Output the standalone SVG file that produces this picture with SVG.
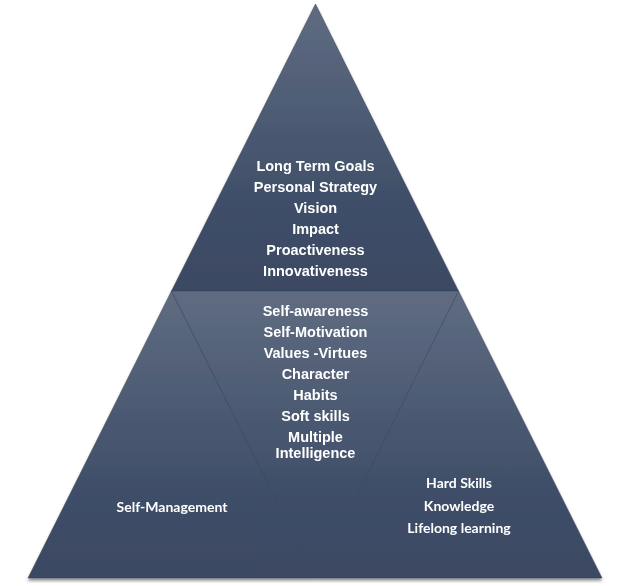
<svg xmlns="http://www.w3.org/2000/svg" width="631" height="586" viewBox="0 0 631 586">
<defs>
<linearGradient id="g" x1="0" y1="0" x2="0" y2="1">
<stop offset="0" stop-color="#5f6c81"/>
<stop offset="0.7" stop-color="#3f4e68"/>
<stop offset="1" stop-color="#3b4963"/>
</linearGradient>
<filter id="sh" x="-5%" y="-5%" width="110%" height="110%">
<feDropShadow dx="0" dy="2.5" stdDeviation="1.5" flood-color="#000" flood-opacity="0.45"/>
</filter>
<style>
.tri{fill:url(#g);stroke:#34405a;stroke-width:0.8;stroke-opacity:0.6}
.a{font-family:"Liberation Sans",Arial,sans-serif;font-weight:bold;font-size:14.5px;fill:#fff;text-anchor:middle}
.c{font-family:Lato,"Open Sans",sans-serif;font-weight:bold;font-size:14px;fill:#fff;text-anchor:middle}
</style>
</defs>
<g filter="url(#sh)">
<g id="top">
<polygon class="tri" points="315.5,4 171.5,291 458.5,291"/>
<text class="a" x="315.5" y="170.5">Long Term Goals</text>
<text class="a" x="315.5" y="191.5">Personal Strategy</text>
<text class="a" x="315.5" y="212.5">Vision</text>
<text class="a" x="315.5" y="233.5">Impact</text>
<text class="a" x="315.5" y="254.5">Proactiveness</text>
<text class="a" x="315.5" y="275.5">Innovativeness</text>
</g>
<g id="left">
<polygon class="tri" points="171.5,291 28,578 315.5,578"/>
<text class="c" x="172" y="512">Self-Management</text>
</g>
<g id="right">
<polygon class="tri" points="458.5,291 315.5,578 602,578"/>
<text class="c" x="459" y="488">Hard Skills</text>
<text class="c" x="459" y="510.5">Knowledge</text>
<text class="c" x="459" y="533">Lifelong learning</text>
</g>
<g id="middle">
<polygon class="tri" points="171.5,291 458.5,291 315.5,578"/>
<text class="a" x="315.5" y="316">Self-awareness</text>
<text class="a" x="315.5" y="337">Self-Motivation</text>
<text class="a" x="315.5" y="358">Values -Virtues</text>
<text class="a" x="315.5" y="379">Character</text>
<text class="a" x="315.5" y="400">Habits</text>
<text class="a" x="315.5" y="421">Soft skills</text>
<text class="a" x="315.5" y="442">Multiple</text>
<text class="a" x="315.5" y="458">Intelligence</text>
</g>
</g>
<g id="connectors"/>
</svg>
